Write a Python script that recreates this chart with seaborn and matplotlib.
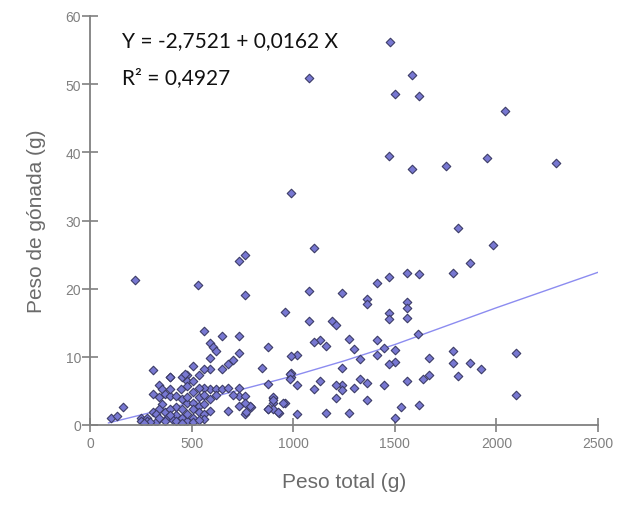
import matplotlib
matplotlib.use("Agg")
import matplotlib.pyplot as plt
import seaborn as sns
import pandas as pd

# Scatter data: Peso total (g) vs Peso de gónada (g)
peso_total = [
    1474, 1076, 1585, 1500, 1620, 2041, 1473, 1585, 1753, 1954, 2295, 989,
    1811, 1985, 1103, 733, 762, 1869, 221, 532, 762, 1076, 1242, 1413, 1473,
    1559, 1620, 1784, 1362, 1362, 1473, 1473, 1559, 1559, 1559, 960, 1076,
    1190, 1213, 1616, 2096, 1784, 1784, 1869, 1923, 1813, 2096, 1668, 1668,
    1639, 1559, 1620, 1532, 1500, 1500, 1500, 1473, 1413, 1413, 1446, 1446,
    1362, 1362, 1329, 1329, 1300, 1300, 1273, 1273, 1242, 1242, 1242, 1213,
    1213, 1161, 1132, 1103, 1132, 1103, 1161, 1018, 989, 989, 989, 1018, 1018,
    960, 931, 875, 846, 875, 902, 902, 875, 902, 733, 733, 704, 677, 648, 648,
    733, 733, 762, 762, 790, 733, 677, 704, 563, 592, 606, 619, 592, 592, 563,
    592, 619, 648, 619, 563, 507, 536, 478, 478, 507, 451, 393, 310, 101, 135,
    164, 310, 310, 323, 339, 352, 368, 339, 352, 339, 323, 368, 381, 251, 251,
    279, 279, 294, 265, 393, 422, 422, 451, 451, 422, 410, 451, 478, 478, 507,
    478, 478, 507, 507, 507, 536, 536, 536, 536, 563, 563, 563, 592, 592, 563,
    478, 449, 393, 393, 393, 339, 368, 422, 451, 507, 536, 677, 984, 984, 901,
    901, 926, 950, 876, 767, 787, 763, 468, 394,
]
peso_gonada = [
    56.2, 50.9, 51.4, 48.6, 48.3, 46.1, 39.5, 37.6, 38.0, 39.2, 38.4, 34.0,
    28.9, 26.4, 26.0, 24.0, 25.0, 23.7, 21.2, 20.5, 19.1, 19.7, 19.4, 20.9, 21.7,
    22.3, 22.1, 22.3, 18.5, 17.7, 16.4, 15.5, 18.1, 17.2, 15.7, 16.6, 15.2,
    15.2, 14.7, 13.3, 10.6, 10.8, 9.1, 9.1, 8.2, 7.2, 4.4, 9.8, 7.3,
    6.7, 6.5, 2.9, 2.6, 1.0, 11.0, 9.3, 8.9, 12.5, 10.2, 11.3, 5.9,
    6.2, 3.6, 9.7, 6.8, 11.1, 5.4, 12.6, 1.7, 8.3, 5.8, 5.2, 3.9,
    5.8, 11.6, 12.5, 12.2, 6.4, 5.3, 1.8, 10.2, 10.1, 7.7, 7.0, 5.8, 1.6,
    3.2, 1.8, 11.4, 8.3, 6.0, 3.9, 3.3, 2.3, 2.4, 13.0, 10.6, 9.6, 9.0, 13.0, 8.2,
    5.5, 4.3, 4.3, 1.6, 2.7, 2.8, 2.0, 4.4, 13.8, 12.1, 11.4, 10.9, 9.8, 8.2, 8.2,
    5.3, 5.3, 5.3, 4.4, 5.5, 8.6, 7.4, 7.4, 6.5, 6.5, 7.0, 7.0, 8.1, 1.0, 1.3,
    2.7, 4.5, 1.9, 0.4, 5.8, 5.3, 4.5, 4.1, 3.1, 2.4, 1.6, 1.9, 1.1, 1.1, 0.6,
    1.1, 0.6, 0.4, 0.3, 4.3, 4.3, 2.7, 3.8, 2.4, 1.5, 0.8, 1.0, 0.6, 1.6, 1.0,
    3.3, 4.1, 4.8, 3.2, 2.3, 5.5, 4.1, 2.8, 1.9, 4.4, 3.1, 1.6, 3.8, 2.1, 0.9,
    5.7, 5.3, 5.3, 2.3, 1.4, 1.0, 0.6, 0.6, 0.3, 0.4, 0.8, 5.5, 7.5, 6.7, 4.1,
    3.6, 1.9, 3.3, 2.3, 1.9, 2.8, 3.3, 7.5, 7.1,
]

# Fitted line as drawn
linea_x = [90, 500, 1000, 1250, 1500, 1750, 2000, 2250, 2500]
linea_y = [0.3, 3.3, 7.2, 9.4, 11.8, 14.5, 17.2, 19.8, 22.4]

x_ticks = [0, 500, 1000, 1500, 2000, 2500]
y_ticks = [0, 10, 20, 30, 40, 50, 60]

ecuacion = "Y = -2,7521 + 0,0162 X"
r2_texto = "R² = 0,4927"

sns.set_theme(style="white")
plt.rcParams['font.family'] = ['Liberation Sans', 'DejaVu Sans']

df = pd.DataFrame({"x": peso_total, "y": peso_gonada})
dl = pd.DataFrame({"x": linea_x, "y": linea_y})

fig = plt.figure(figsize=(6.17, 5.06), dpi=100)
ax = fig.add_axes([90/617, 80/506, 508/617, 409/506])

sns.lineplot(data=dl, x="x", y="y", ax=ax, color="#8c8cf0", linewidth=1.0, zorder=1)
sns.scatterplot(data=df, x="x", y="y", ax=ax, marker="D", s=19,
                color="#7878d2", edgecolor="#3c3c66", linewidth=0.8, zorder=2)

ax.set_xlim(0, 2500)
ax.set_ylim(0, 60)
ax.set_xticks(x_ticks)
ax.set_yticks(y_ticks)
ax.set_xticklabels([str(t) for t in x_ticks])
ax.set_yticklabels([str(t) for t in y_ticks])

for side in ["top", "right"]:
    ax.spines[side].set_visible(False)
for side in ["left", "bottom"]:
    ax.spines[side].set_color("#808080")
    ax.spines[side].set_linewidth(1.3)

ax.tick_params(axis="y", direction="inout", length=11, width=1.2, color="#808080",
               labelsize=10, labelcolor="#808080", pad=1, left=True)
ax.tick_params(axis="x", direction="inout", length=10, width=1.2, color="#808080",
               labelsize=10, labelcolor="#808080", pad=3, bottom=True)

ax.set_xlabel("Peso total (g)", fontsize=15, color="#6a6a6a", labelpad=16)
ax.set_ylabel("Peso de gónada (g)", fontsize=15, color="#6a6a6a", labelpad=14)

ax.text(157, 56.4, ecuacion, fontsize=15, color="#111111", va="center", ha="left",
        family=["Lato", "DejaVu Sans"])
ax.text(157, 51.0, r2_texto, fontsize=15, color="#111111", va="center", ha="left",
        family=["Lato", "DejaVu Sans"])

fig.savefig("out.png", dpi=100)
